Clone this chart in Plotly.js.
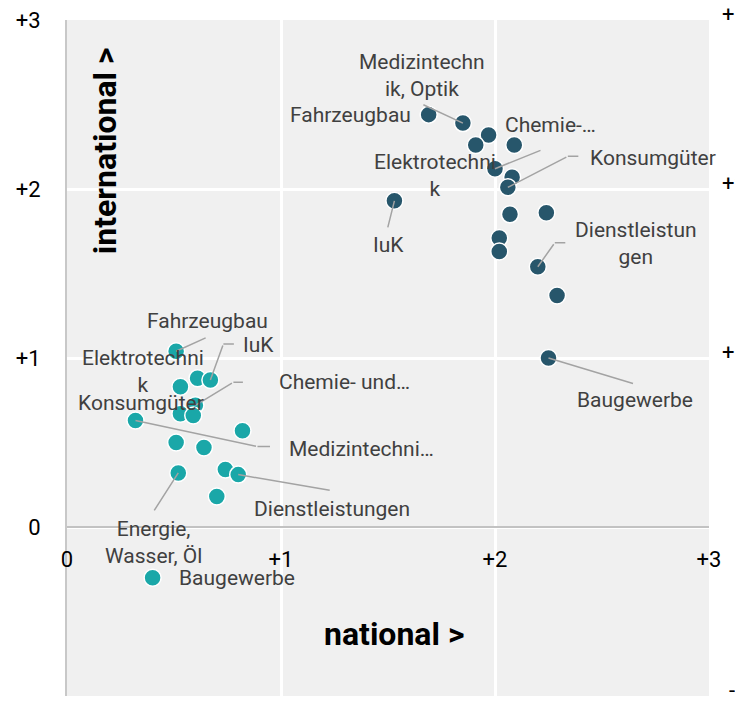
<!DOCTYPE html>
<html><head><meta charset="utf-8">
<script src="https://cdn.plot.ly/plotly-3.0.1.min.js"></script>
<style>html,body{margin:0;padding:0;background:#fff}#chart{width:735px;height:708px}</style>
</head><body><div id="chart"></div>
<script>
// ---- data ----
const darkNational      = [1.69, 1.85, 1.97, 1.91, 2.09, 2.00, 2.08, 2.06, 2.07, 2.24, 2.02, 2.02, 2.20, 2.29, 1.53, 2.25];
const darkInternational = [2.44, 2.39, 2.32, 2.26, 2.26, 2.12, 2.07, 2.01, 1.85, 1.86, 1.71, 1.63, 1.54, 1.37, 1.93, 1.00];
const darkLabels = ['Fahrzeugbau', 'Medizintechn<br>ik, Optik', '', 'Elektrotechni<br>k', '', 'Chemie-…', '', 'Konsumgüter',
                    '', '', '', '', 'Dienstleistun<br>gen', '', 'IuK', 'Baugewerbe'];

const lightNational      = [0.51, 0.61, 0.67, 0.53, 0.60, 0.53, 0.59, 0.32, 0.82, 0.51, 0.64, 0.52, 0.74, 0.80, 0.70, 0.40];
const lightInternational = [1.04, 0.88, 0.87, 0.83, 0.72, 0.67, 0.66, 0.63, 0.57, 0.50, 0.47, 0.32, 0.34, 0.31, 0.18, -0.30];
const lightLabels = ['Fahrzeugbau', '', 'IuK', 'Elektrotechni<br>k', 'Chemie- und…', 'Konsumgüter', '', 'Medizintechni…',
                     '', '', '', 'Energie,<br>Wasser, Öl', '', 'Dienstleistungen', '', 'Baugewerbe'];

const xTickVals = [0, 1, 2, 3];
const xTickText = ['0', '+1', '+2', '+3'];
const yTickVals = [-1, 0, 1, 2, 3];
const yTickText = ['-1', '0', '+1', '+2', '+3'];

const xTitle = 'national >';
const yTitle = 'international >';

// ---- label placement (pixel offsets from the point; y down) ----
const darkPlace = {
  0:  {t: [-16, 0], anchor: 'right'},
  1:  {t: [-41, -48], line: [[0,0], [-41,-19]]},
  3:  {t: [-41, 30]},
  5:  {t: [55, -44], line: [[0,0], [47,-19]]},
  7:  {t: [80, -29], anchor: 'left', line: [[0,0], [60,-31], [72,-31]]},
  12: {t: [98, -23], line: [[0,0], [17,-24], [29,-24]]},
  14: {t: [-6, 44], line: [[0,0], [-7,28]]},
  15: {t: [86, 42], line: [[0,0], [86,26]]}
};
const lightPlace = {
  0:  {t: [31, -30], line: [[0,0], [31,-14]]},
  2:  {t: [48, -35], line: [[0,0], [13,-36], [25,-36]]},
  3:  {t: [-37, -15]},
  4:  {t: [82, -23], anchor: 'left', line: [[0,0], [38,-23], [49,-23]]},
  5:  {t: [-39, -11]},
  7:  {t: [152, 28], anchor: 'left', line: [[0,0], [122,26], [136,26]]},
  11: {t: [-25, 70], line: [[0,0], [-25,39]]},
  13: {t: [94, 34], line: [[0,0], [93,16]]},
  15: {t: [24, 0], anchor: 'left'}
};

const darkColor = '#27566b';
const lightColor = '#1aa7a8';
const labelFont = {family: 'Roboto, sans-serif', size: 21, color: '#404040'};
const tickFont = {family: 'Roboto, sans-serif', size: 22, color: '#000'};
const titleFont = {family: 'Roboto, sans-serif', size: 32, color: '#000', weight: 'bold'};

const traces = [
  {type: 'scatter', mode: 'markers', x: lightNational, y: lightInternational, name: 'light',
   marker: {size: 17, color: lightColor, line: {color: '#fff', width: 1.5}}, hoverinfo: 'skip'},
  {type: 'scatter', mode: 'markers', x: darkNational, y: darkInternational, name: 'dark',
   marker: {size: 17, color: darkColor, line: {color: '#fff', width: 1.5}}, hoverinfo: 'skip'}
];

const annotations = [];
function addLabels(X, Y, labels, place) {
  Object.keys(place).forEach(k => {
    const i = +k, p = place[k];
    if (p.line) {
      for (let s = 0; s < p.line.length - 1; s++) {
        const a = p.line[s], b = p.line[s + 1];
        annotations.push({x: X[i], y: Y[i], xref: 'x', yref: 'y', xshift: a[0], yshift: -a[1],
          ax: b[0] - a[0], ay: b[1] - a[1], axref: 'pixel', ayref: 'pixel', text: '',
          showarrow: true, arrowhead: 0, arrowwidth: 1.5, arrowcolor: '#a3a3a3', standoff: 0, startstandoff: 0});
      }
    }
    annotations.push({x: X[i], y: Y[i], xref: 'x', yref: 'y', xshift: p.t[0], yshift: -p.t[1],
      text: labels[i], showarrow: false, xanchor: p.anchor || 'center', yanchor: 'middle',
      align: p.anchor || 'center', font: labelFont});
  });
}
addLabels(lightNational, lightInternational, lightLabels, lightPlace);
addLabels(darkNational, darkInternational, darkLabels, darkPlace);

// axis titles
annotations.push({text: xTitle, xref: 'paper', yref: 'paper', x: 0.509, y: 0.0917, showarrow: false,
  xanchor: 'center', yanchor: 'middle', font: titleFont});
annotations.push({text: yTitle, xref: 'paper', yref: 'paper', x: 0.0592, y: 0.806, showarrow: false, textangle: -90,
  xanchor: 'center', yanchor: 'middle', font: titleFont});

// mirrored tick labels at the right edge (clipped by the window, as in the reference)
yTickVals.forEach((v, j) => {
  if (v === 0) return; // falls entirely outside the window
  annotations.push({text: yTickText[j], xref: 'paper', yref: 'y', x: 1.0625, y: v, yshift: 6, showarrow: false,
    xanchor: 'right', yanchor: 'middle', font: tickFont});
});

const layout = {
  width: 735, height: 708,
  margin: {l: 67, r: 26, t: 20, b: 12, pad: 0},
  paper_bgcolor: '#ffffff', plot_bgcolor: '#f0f0f0',
  showlegend: false, hovermode: false,
  xaxis: {range: [0, 3], tickvals: xTickVals, ticktext: xTickText, anchor: 'free', position: 0.25,
    showline: true, linecolor: '#c2c2c2', linewidth: 2, zeroline: false,
    showgrid: true, gridcolor: '#ffffff', gridwidth: 3,
    ticks: 'outside', ticklen: 13, tickcolor: 'rgba(0,0,0,0)', tickfont: tickFont, fixedrange: true},
  yaxis: {range: [-1, 3], tickvals: yTickVals, ticktext: yTickText,
    showline: true, linecolor: '#c8c8c8', linewidth: 2, zeroline: false,
    showgrid: true, gridcolor: '#ffffff', gridwidth: 3,
    ticks: 'outside', ticklen: 20, tickcolor: 'rgba(0,0,0,0)', tickfont: tickFont, fixedrange: true},
  annotations: annotations
};

Plotly.newPlot('chart', traces, layout, {displayModeBar: false, staticPlot: true});
</script></body></html>
